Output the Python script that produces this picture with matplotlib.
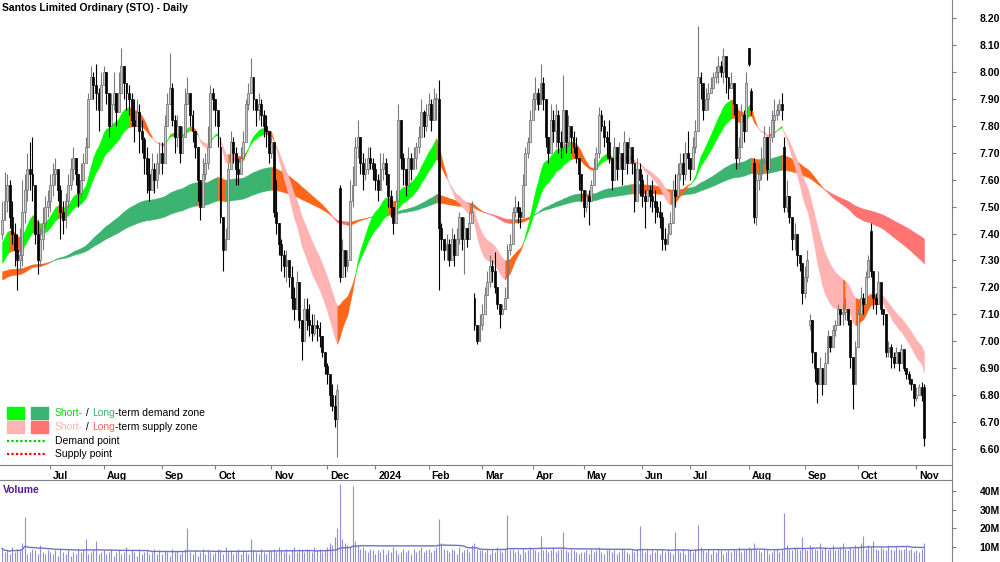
#Import Requirements
import numpy as np
import pandas as pd
import matplotlib
matplotlib.use("Agg")
import matplotlib.pyplot as plt
from matplotlib.transforms import ScaledTranslation
from matplotlib.lines import Line2D
from matplotlib.patches import Rectangle

plt.rcParams['font.family'] = ['Liberation Sans', 'DejaVu Sans']

#Data - daily bars, prices in cents, one row per month
closes = [
    745,752,758,746,740,734,730,732,748,756,764,762,758,740,730,738,744,750,752,
    758,762,764,756,748,745,752,758,764,768,762,755,760,766,772,790,798,795,792,786,795,
    800,792,780,788,792,785,792,802,796,792,790,782,780,785,778,775,768,762,756,764,760,766,770,
    766,780,788,794,782,776,780,770,776,788,792,784,778,772,760,750,762,766,772,792,790,
    786,780,746,734,738,764,774,770,764,762,768,774,788,792,798,790,786,788,784,780,778,770,
    774,748,744,736,732,728,730,724,716,712,722,708,700,712,708,706,703,706,705,702,696,691,
    688,680,676,671,682,724,734,728,730,752,758,772,776,766,762,764,768,766,764,
    760,756,764,766,762,754,750,744,752,782,768,764,758,768,764,768,772,776,785,780,784,
    788,782,790,790,742,738,734,736,730,738,732,738,746,738,742,738,744,748,706,700,706,
    710,717,722,728,726,720,714,710,712,716,734,736,748,750,748,746,758,770,774,782,
    790,792,788,796,790,776,770,782,778,784,774,772,786,774,780,776,772,768,762,756,
    750,754,752,758,764,770,784,780,776,774,768,760,772,764,770,764,774,766,772,766,752,764,760,
    754,752,756,754,752,750,748,746,738,736,740,744,756,754,762,766,762,770,768,
    764,772,778,798,796,786,790,792,794,798,800,802,800,806,798,794,796,788,768,772,784,778,796,
    803,786,746,760,762,768,776,764,776,782,784,786,788,786,750,754,746,738,740,732,729,718,
    724,730,708,696,690,684,690,684,692,702,698,704,706,712,710,711,712,708,694,684,698,
    710,716,714,724,730,726,716,714,722,712,710,696,698,694,692,696,692,697,690,688,686,684,679,
    680,683,680,664,
]
highs = [
    752,763,762,760,752,744,740,742,760,762,770,774,776,756,745,742,750,754,756,
    762,766,768,764,758,752,755,762,768,772,768,760,766,770,776,792,802,800,803,794,800,
    802,798,790,792,800,792,800,809,802,796,795,792,790,790,788,782,776,772,768,770,766,770,774,
    774,784,792,807,796,784,784,780,780,794,798,790,786,778,768,760,768,770,780,795,794,
    790,786,776,742,742,766,778,776,772,768,772,778,790,796,805,798,790,792,790,786,784,776,
    778,774,760,742,738,734,734,730,728,720,726,718,703,716,716,714,710,710,708,707,701,694,
    692,686,684,680,684,758,738,734,734,760,765,776,782,774,770,768,772,772,768,
    766,762,770,770,768,760,756,748,756,788,780,770,762,772,770,772,774,780,790,786,788,
    792,790,794,792,797,744,738,740,738,742,740,742,748,742,746,742,748,752,718,706,710,
    714,720,726,732,730,733,718,714,714,720,736,740,750,754,752,750,762,772,776,786,
    792,798,794,803,798,790,776,788,786,788,786,778,799,786,784,780,778,776,768,762,
    754,756,756,760,768,772,787,786,782,778,782,766,776,772,774,770,778,772,776,772,764,768,766,
    762,756,762,758,760,756,752,752,748,742,744,748,760,762,766,770,770,774,778,
    768,776,782,817,800,796,794,796,798,800,802,806,804,809,806,798,800,796,782,776,788,786,800,
    809,794,768,764,766,772,780,774,780,786,790,788,790,792,776,760,752,746,744,738,730,728,
    728,734,710,701,694,688,694,688,696,704,702,706,708,714,712,714,716,712,708,692,700,
    712,720,718,726,732,744,720,718,726,720,712,701,700,699,696,698,696,699,694,690,689,686,684,
    683,684,685,684,
]
lows = [
    738,745,748,742,736,728,719,726,728,744,752,756,752,736,725,728,734,742,746,
    748,754,758,752,738,740,742,750,756,760,758,750,752,760,766,772,790,790,786,778,790,
    795,788,776,780,786,780,785,794,790,786,784,780,774,780,770,770,762,755,752,756,755,757,762,
    762,768,780,790,780,770,772,766,770,776,788,780,774,768,752,745,756,760,764,780,786,
    780,772,744,726,734,748,766,766,758,758,762,768,778,786,792,786,780,782,780,776,772,766,
    768,746,740,732,726,724,722,720,712,708,718,705,693,700,704,702,700,702,700,698,694,688,
    684,676,674,668,657,722,724,724,726,734,750,760,768,762,756,760,762,764,760,
    756,752,760,760,758,750,746,740,744,756,764,758,754,762,760,764,764,770,776,776,778,
    782,778,784,782,719,734,730,730,728,734,728,734,736,734,725,735,738,744,704,699,700,
    704,712,718,720,722,718,712,705,710,714,716,732,738,746,744,742,756,760,768,776,
    782,786,786,790,786,772,766,770,774,772,770,768,768,770,772,770,770,766,756,752,
    746,748,743,752,760,766,768,778,772,768,766,756,766,760,764,758,768,762,766,762,748,760,754,
    750,742,752,750,748,744,746,742,734,734,736,740,750,750,756,760,758,760,764,
    760,766,770,784,790,782,786,786,792,794,796,796,798,796,792,790,794,784,764,764,780,774,786,
    802,784,744,743,756,760,766,760,770,774,776,782,784,782,748,748,744,734,734,728,726,714,
    716,722,704,692,685,677,684,680,688,697,696,700,702,708,706,706,708,706,690,675,692,
    698,712,710,718,724,724,712,710,716,710,706,694,694,690,690,692,689,693,689,686,684,682,676,
    678,680,678,661,
]
# opens that differ from the previous close (gaps)
gap_opens = {0: 740, 86: 772, 133: 757, 186: 716, 294: 809, 295: 793,
             296: 766, 308: 772, 318: 706, 342: 741, 363: 683}
# volume in millions
volume_m = [
    9,7,8,6,10,7,9,8,12,26,6,7,9,8,6,11,7,6,8,
    7,6,8,5,9,7,6,8,5,7,6,9,7,8,14,6,7,8,13,6,7,
    8,6,7,9,5,7,8,6,7,10,6,8,7,5,9,6,7,8,6,7,9,6,8,
    6,8,7,5,9,7,8,6,7,9,20,7,6,8,5,7,9,6,8,7,6,
    7,9,8,6,10,7,8,6,7,9,6,8,7,6,14,8,7,6,9,7,6,8,
    8,9,7,10,8,7,9,6,8,10,7,9,8,7,9,8,7,10,8,9,7,8,
    10,12,11,15,20,44,14,12,11,10,43,13,11,9,10,8,7,9,8,
    6,8,7,9,6,8,7,10,8,6,7,9,7,8,6,9,7,8,10,7,8,
    9,7,8,10,25,12,9,8,7,9,8,6,10,7,8,9,7,11,12,9,8,
    8,7,9,6,8,7,10,8,7,9,27,8,9,7,8,6,9,7,8,10,
    9,8,7,16,8,9,7,8,10,7,8,9,18,8,7,9,8,7,6,7,
    7,8,6,9,7,8,10,7,6,8,9,7,8,6,7,9,8,7,6,8,7,9,21,
    8,7,9,6,8,7,8,6,9,7,8,7,6,18,8,7,9,6,8,
    8,7,9,22,10,8,7,9,6,8,7,9,8,6,7,8,7,9,8,10,7,8,9,
    10,9,12,9,8,7,9,8,6,7,8,9,7,8,28,11,9,8,10,9,8,15,
    9,8,11,10,9,8,12,9,10,8,9,11,8,9,10,12,9,8,10,9,11,
    10,12,16,9,11,10,13,9,8,10,9,8,11,9,8,10,9,8,9,10,8,9,7,
    8,7,9,12,
]
# band levels at the left edge of the chart (fast, slow)
short_seed = (7.36, 7.28)
long_seed = (7.225, 7.258)

holidays = ['2023-06-12', '2023-12-25', '2023-12-26', '2024-01-01', '2024-01-26',
            '2024-03-29', '2024-04-01', '2024-04-25', '2024-06-10']

#Prepare
dates = pd.bdate_range('2023-06-05', '2024-11-06')
dates = dates[~dates.isin(pd.to_datetime(holidays))]
c = np.array(closes) / 100.0
h = np.array(highs) / 100.0
l = np.array(lows) / 100.0
n = len(c)
assert len(dates) == n == len(h) == len(l) == len(volume_m), (len(dates), n, len(h), len(l), len(volume_m))
o = np.r_[c[0], c[:-1]]
for k, v in gap_opens.items():
    o[k] = v / 100.0
h = np.maximum(h, np.maximum(o, c))
l = np.minimum(l, np.minimum(o, c))
x = np.arange(n)


def ema(values, period, seed):
    a = 2.0 / (period + 1)
    out = []
    e = seed
    for v in values:
        e = e + a * (v - e)
        out.append(e)
    return np.array(out)


sf = ema(c, 18, short_seed[0])
ss = ema(c, 30, short_seed[1])
lf = ema(c, 120, long_seed[0])
ls = ema(c, 200, long_seed[1])

#Figure
fig = plt.figure(figsize=(10, 5.62), dpi=100)
ax = fig.add_axes([0, 1 - 465 / 562, 0.952, 465 / 562])
axv = fig.add_axes([0, 0, 0.952, 82 / 562])

ORANGE = '#FF661A'


def draw_band(fast, slow, c_up, c_dn):
    state = []
    for i in range(n):
        rising = i == 0 or fast[i] >= fast[i - 1]
        above = fast[i] >= slow[i]
        if above and rising:
            state.append(c_up)
        elif not above and not rising:
            state.append(c_dn)
        else:
            state.append(ORANGE)
    i = 1
    while i < n:
        j = i
        while j + 1 < n and state[j + 1] == state[i]:
            j += 1
        seg = slice(i - 1, j + 1)
        ax.fill_between(x[seg], fast[seg], slow[seg], color=state[i], lw=0.3,
                        edgecolor=state[i], zorder=1)
        i = j + 1


draw_band(lf, ls, '#3CB371', '#FF7373')
draw_band(sf, ss, '#00FF00', '#FFB3B3')

#Candles
up = c >= o
ax.vlines(x[up], l[up], h[up], color='#7a7a7a', lw=0.8, zorder=3)
ax.vlines(x[~up], l[~up], h[~up], color='black', lw=0.8, zorder=3)
body = np.maximum(np.abs(c - o), 0.004)
bottom = np.minimum(c, o)
ax.bar(x[up], body[up], bottom=bottom[up], width=0.75, color='#c8c8c8',
       edgecolor='#6a6a6a', lw=0.5, zorder=4)
ax.bar(x[~up], body[~up], bottom=bottom[~up], width=0.75, color='black',
       edgecolor='black', lw=0.5, zorder=4)

ax.set_xlim(-0.79, 374.0)
ax.set_ylim(6.5407, 8.2668)
ax.yaxis.tick_right()
yt = np.arange(6.6, 8.21, 0.1)
ax.set_yticks(yt)
ax.set_yticklabels(['%.2f' % v for v in yt], fontsize=7.5, fontweight='bold')
ax.tick_params(axis='y', direction='out', length=3, color='#808080', pad=17)
for lab in ax.get_yticklabels():
    lab.set_horizontalalignment('left')
for s in ['left', 'top']:
    ax.spines[s].set_visible(False)
for s in ['right', 'bottom']:
    ax.spines[s].set_color('#808080')

# month ticks
month_start = [i for i in range(n) if i == 0 or dates[i].month != dates[i - 1].month][1:]
month_lab = [('2024' if dates[i].month == 1 else dates[i].strftime('%b')) for i in month_start]
ax.set_xticks(month_start)
ax.set_xticklabels(month_lab, fontsize=7.5, fontweight='bold')
ax.tick_params(axis='x', direction='out', length=3, color='#808080', pad=1)
shift = ScaledTranslation(2 / 72, 0, fig.dpi_scale_trans)
for lab in ax.get_xticklabels():
    lab.set_horizontalalignment('left')
    lab.set_transform(lab.get_transform() + shift)

ax.text(2 / 952, 1 - 8 / 465, 'Santos Limited Ordinary (STO) - Daily', transform=ax.transAxes,
        fontsize=7.5, fontweight='bold', va='center', ha='left')

#Legend
def fx(px):
    return px / 1000


def fy(py):
    return 1 - py / 562


rows = [413, 427, 441, 454]
fig.patches.append(Rectangle((fx(7), fy(419)), 17 / 1000, 12 / 562, color='#00FF00', transform=fig.transFigure))
fig.patches.append(Rectangle((fx(31), fy(419)), 17 / 1000, 12 / 562, color='#3CB371', transform=fig.transFigure))
fig.patches.append(Rectangle((fx(7), fy(433)), 17 / 1000, 12 / 562, color='#FFB3B3', transform=fig.transFigure))
fig.patches.append(Rectangle((fx(31), fy(433)), 17 / 1000, 12 / 562, color='#FF7373', transform=fig.transFigure))
fig.lines.append(Line2D([fx(7), fx(45)], [fy(441), fy(441)], color='#00CC00', lw=1.6, ls=(0, (1, 1)), transform=fig.transFigure))
fig.lines.append(Line2D([fx(7), fx(45)], [fy(454), fy(454)], color='#FF0000', lw=1.6, ls=(0, (1, 1)), transform=fig.transFigure))


def chain_text(py, pieces):
    t = fig.text(fx(55), fy(py), pieces[0][0], color=pieces[0][1], fontsize=7.5, va='center', ha='left')
    for s, col in pieces[1:]:
        t = ax.annotate(s, xy=(1, 0), xycoords=t, va='bottom', ha='left', color=col,
                        fontsize=7.5, annotation_clip=False)


chain_text(rows[0], [('Short-', '#00DD00'), (' / ', 'black'), ('Long', '#3CB371'), ('-term demand zone', 'black')])
chain_text(rows[1], [('Short-', '#FFB3B3'), (' / ', 'black'), ('Long', '#FF6060'), ('-term supply zone', 'black')])
chain_text(rows[2], [('Demand point', 'black')])
chain_text(rows[3], [('Supply point', 'black')])

#Volume
vol = np.array(volume_m) * 1e6
vol_ma = pd.Series(vol).rolling(50, min_periods=1).mean()
axv.vlines(x, 0, vol, color='#8f8fd6', lw=0.8)
axv.plot(x, vol_ma, color='#7070c8', lw=1.0)
axv.set_xlim(-0.79, 374.0)
axv.set_ylim(1.7e6, 46.1e6)
axv.set_xticks([])
axv.yaxis.tick_right()
vt = [10e6, 20e6, 30e6, 40e6]
axv.set_yticks(vt)
axv.set_yticklabels(['10M', '20M', '30M', '40M'], fontsize=7.5, fontweight='bold')
axv.tick_params(axis='y', direction='out', length=3, color='#808080', pad=17)
for lab in axv.get_yticklabels():
    lab.set_horizontalalignment('left')
for s in ['left', 'bottom']:
    axv.spines[s].set_visible(False)
for s in ['right', 'top']:
    axv.spines[s].set_color('#808080')
axv.text(3 / 952, 1 - 10 / 82, 'Volume', transform=axv.transAxes, fontsize=7.5,
         fontweight='bold', color='#551A8B', va='center', ha='left')

fig.lines.append(Line2D([0.952, 0.952], [fy(465), fy(480)], color='#808080', lw=0.8, transform=fig.transFigure))

fig.savefig('out.png', dpi=100)
